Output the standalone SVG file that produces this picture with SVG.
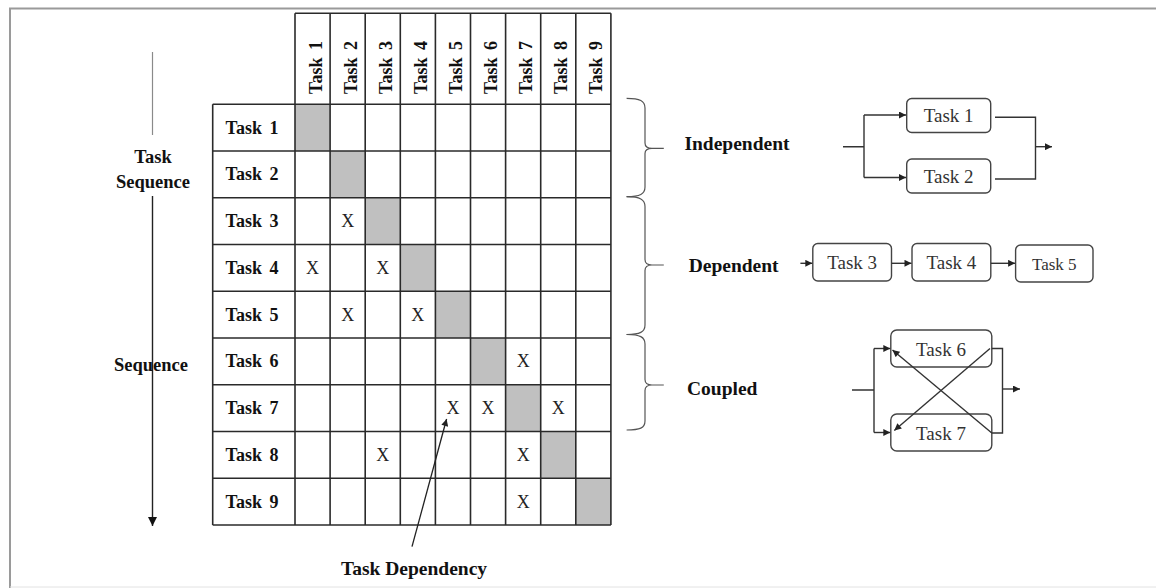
<svg xmlns="http://www.w3.org/2000/svg" width="1156" height="588" viewBox="0 0 1156 588">
  <style>
    .b { font-family: "Liberation Serif", "Times New Roman", serif; font-weight: bold; fill: #111; }
    .r { font-family: "Liberation Serif", "Times New Roman", serif; fill: #333; }
    .lbl { font-size: 18px; word-spacing: 3px; }
    .cat { font-size: 19.5px; }
    .x { font-size: 18px; text-anchor: middle; fill: #222; }
    .grid line { stroke: #2a2a2a; stroke-width: 1.6; }
    .diag { fill: #c0c0c0; }
    .box rect { fill: #fff; stroke: #444; stroke-width: 1.4; }
    .box text { font-size: 19px; text-anchor: middle; }
    .wire { fill: none; stroke: #333; stroke-width: 1.4; }
    .brace { fill: none; stroke: #555; stroke-width: 1.2; }
  </style>
  <defs>
    <marker id="ah" viewBox="0 0 10 10" refX="10" refY="5" markerWidth="8" markerHeight="7" orient="auto" markerUnits="userSpaceOnUse">
      <path d="M0,0 L10,5 L0,10 z" fill="#222"/>
    </marker>
    <marker id="ahBig" viewBox="0 0 10 10" refX="10" refY="5" markerWidth="10" markerHeight="9" orient="auto" markerUnits="userSpaceOnUse">
      <path d="M0,0 L10,5 L0,10 z" fill="#111"/>
    </marker>
  </defs>

  <rect width="1156" height="588" fill="#fff"/>
  <!-- frame -->
  <path d="M10,588 V8.5 H1156" fill="none" stroke="#9a9a9a" stroke-width="2"/>
  <line x1="10" y1="587" x2="1156" y2="587" stroke="#e2e2e2" stroke-width="1"/>

  <!-- sequence axis -->
  <g id="sequence-axis">
    <line x1="152.5" y1="52" x2="152.5" y2="135" stroke="#8a8a8a" stroke-width="1.2"/>
    <line x1="152.5" y1="196" x2="152.5" y2="526" stroke="#222" stroke-width="1.4" marker-end="url(#ahBig)"/>
    <text class="b" x="153" y="163" font-size="18.5" text-anchor="middle">Task</text>
    <text class="b" x="153" y="188" font-size="18.5" text-anchor="middle">Sequence</text>
    <text class="b" x="151" y="371" font-size="18.5" text-anchor="middle">Sequence</text>
  </g>

  <!-- design structure matrix -->
  <g id="matrix">
    <g class="diag">
      <rect x="295" y="104.3" width="35.1" height="46.75"/>
      <rect x="330.1" y="151.05" width="35.1" height="46.75"/>
      <rect x="365.2" y="197.8" width="35.1" height="46.75"/>
      <rect x="400.3" y="244.55" width="35.1" height="46.75"/>
      <rect x="435.4" y="291.3" width="35.1" height="46.75"/>
      <rect x="470.5" y="338.05" width="35.1" height="46.75"/>
      <rect x="505.6" y="384.8" width="35.1" height="46.75"/>
      <rect x="540.7" y="431.55" width="35.1" height="46.75"/>
      <rect x="575.8" y="478.3" width="35.1" height="46.75"/>
    </g>
    <g class="grid">
      <line x1="295" y1="13.3" x2="610.9" y2="13.3"/>
      <line x1="212.7" y1="104.3" x2="610.9" y2="104.3"/>
      <line x1="212.7" y1="151.05" x2="610.9" y2="151.05"/>
      <line x1="212.7" y1="197.8" x2="610.9" y2="197.8"/>
      <line x1="212.7" y1="244.55" x2="610.9" y2="244.55"/>
      <line x1="212.7" y1="291.3" x2="610.9" y2="291.3"/>
      <line x1="212.7" y1="338.05" x2="610.9" y2="338.05"/>
      <line x1="212.7" y1="384.8" x2="610.9" y2="384.8"/>
      <line x1="212.7" y1="431.55" x2="610.9" y2="431.55"/>
      <line x1="212.7" y1="478.3" x2="610.9" y2="478.3"/>
      <line x1="212.7" y1="525.05" x2="610.9" y2="525.05"/>
      <line x1="212.7" y1="104.3" x2="212.7" y2="525.05"/>
      <line x1="295" y1="13.3" x2="295" y2="525.05"/>
      <line x1="330.1" y1="13.3" x2="330.1" y2="525.05"/>
      <line x1="365.2" y1="13.3" x2="365.2" y2="525.05"/>
      <line x1="400.3" y1="13.3" x2="400.3" y2="525.05"/>
      <line x1="435.4" y1="13.3" x2="435.4" y2="525.05"/>
      <line x1="470.5" y1="13.3" x2="470.5" y2="525.05"/>
      <line x1="505.6" y1="13.3" x2="505.6" y2="525.05"/>
      <line x1="540.7" y1="13.3" x2="540.7" y2="525.05"/>
      <line x1="575.8" y1="13.3" x2="575.8" y2="525.05"/>
      <line x1="610.9" y1="13.3" x2="610.9" y2="525.05"/>
    </g>
    <!-- column headings -->
    <g class="b lbl" text-anchor="middle">
      <text transform="translate(321.5,67.5) rotate(-90)">Task 1</text>
      <text transform="translate(356.6,67.5) rotate(-90)">Task 2</text>
      <text transform="translate(391.7,67.5) rotate(-90)">Task 3</text>
      <text transform="translate(426.8,67.5) rotate(-90)">Task 4</text>
      <text transform="translate(461.9,67.5) rotate(-90)">Task 5</text>
      <text transform="translate(497,67.5) rotate(-90)">Task 6</text>
      <text transform="translate(532.1,67.5) rotate(-90)">Task 7</text>
      <text transform="translate(567.2,67.5) rotate(-90)">Task 8</text>
      <text transform="translate(602.3,67.5) rotate(-90)">Task 9</text>
    </g>
    <!-- row headings -->
    <g class="b lbl" text-anchor="middle">
      <text x="252" y="133.7">Task 1</text>
      <text x="252" y="180.4">Task 2</text>
      <text x="252" y="227.2">Task 3</text>
      <text x="252" y="273.9">Task 4</text>
      <text x="252" y="320.7">Task 5</text>
      <text x="252" y="367.4">Task 6</text>
      <text x="252" y="414.2">Task 7</text>
      <text x="252" y="460.9">Task 8</text>
      <text x="252" y="507.7">Task 9</text>
    </g>
    <!-- dependency marks -->
    <g class="r x">
      <text x="347.65" y="227.2">X</text>
      <text x="312.55" y="273.9">X</text>
      <text x="382.75" y="273.9">X</text>
      <text x="347.65" y="320.7">X</text>
      <text x="417.85" y="320.7">X</text>
      <text x="523.15" y="367.4">X</text>
      <text x="452.95" y="414.2">X</text>
      <text x="488.05" y="414.2">X</text>
      <text x="558.25" y="414.2">X</text>
      <text x="382.75" y="460.9">X</text>
      <text x="523.15" y="460.9">X</text>
      <text x="523.15" y="507.7">X</text>
    </g>
  </g>

  <!-- dependency callout -->
  <g id="task-dependency">
    <line x1="412" y1="546.7" x2="446.6" y2="419" stroke="#222" stroke-width="1.3" marker-end="url(#ah)"/>
    <text class="b" x="414" y="574.5" font-size="19.5" text-anchor="middle">Task Dependency</text>
  </g>

  <!-- grouping braces -->
  <g id="braces" class="brace">
    <path d="M626.6,98.3 C640,98.3 645,101 645,108 L645,143 C645,146.5 648,148.3 652,148.3 L663.8,148.3 M652,148.3 C648,148.3 645,150 645,153.5 L645,187 C645,194 640,196.7 626.6,196.7"/>
    <path d="M626.6,196.7 C640,196.7 645,199.5 645,206.5 L645,259.5 C645,263 648,265 652,265 L663.8,265 M652,265 C648,265 645,267 645,270.5 L645,325 C645,332 640,334.5 626.6,334.5"/>
    <path d="M626.6,334.5 C640,334.5 645,337 645,344 L645,379.5 C645,383 648,385 652,385 L663.8,385 M652,385 C648,385 645,387 645,390.5 L645,421 C645,428 640,430 626.6,430"/>
  </g>
  <g id="labels" class="b cat">
    <text x="684.4" y="150">Independent</text>
    <text x="688.7" y="271.5">Dependent</text>
    <text x="687" y="394.5">Coupled</text>
  </g>

  <!-- independent tasks -->
  <g id="ind-task1" class="box"><rect x="906.7" y="98.5" width="84" height="34" rx="5"/><text class="r" x="948.7" y="122">Task 1</text></g>
  <g id="ind-task2" class="box"><rect x="906.7" y="159" width="84" height="34" rx="5"/><text class="r" x="948.7" y="182.5">Task 2</text></g>

  <!-- dependent tasks -->
  <g id="dep-task3" class="box"><rect x="812.8" y="243.5" width="78.7" height="37.5" rx="5"/><text class="r" x="852.2" y="268.5">Task 3</text></g>
  <g id="dep-task4" class="box"><rect x="912" y="243.5" width="78.8" height="37.5" rx="5"/><text class="r" x="951.4" y="268.5">Task 4</text></g>
  <g id="dep-task5" class="box"><rect x="1015.6" y="245" width="77.4" height="37" rx="5"/><text class="r" x="1054.3" y="269.5" style="font-size:17px">Task 5</text></g>

  <!-- coupled tasks -->
  <g id="cpl-task6" class="box"><rect x="890.8" y="330" width="101" height="37" rx="6"/><text class="r" x="941" y="356">Task 6</text></g>
  <g id="cpl-task7" class="box"><rect x="890.8" y="414" width="101" height="37" rx="6"/><text class="r" x="941" y="440">Task 7</text></g>

  <!-- connectors -->
  <g id="connectors" class="wire">
    <path d="M843,146.7 H864 M864,115 V177.5"/>
    <path d="M864,115 H906" marker-end="url(#ah)"/>
    <path d="M864,177.5 H906" marker-end="url(#ah)"/>
    <path d="M995,117.3 H1035.5 V179 H995"/>
    <path d="M1035.5,146.7 H1052" marker-end="url(#ah)"/>

    <path d="M800.4,263.3 H812.3" marker-end="url(#ah)"/>
    <path d="M891.5,263.3 H911.5" marker-end="url(#ah)"/>
    <path d="M990.8,263.3 H1015.1" marker-end="url(#ah)"/>

    <path d="M852,390 H874 M874,348.5 V432.5"/>
    <path d="M874,348.5 H890.3" marker-end="url(#ah)"/>
    <path d="M874,432.5 H890.3" marker-end="url(#ah)"/>
    <path d="M990,348.5 L894.3,430.5" marker-end="url(#ah)"/>
    <path d="M991.8,433 L892.5,350" marker-end="url(#ah)"/>
    <path d="M991.8,348.5 H1002.5 V433 H991.8"/>
    <path d="M1002.5,389 H1020" marker-end="url(#ah)"/>
  </g>
</svg>
